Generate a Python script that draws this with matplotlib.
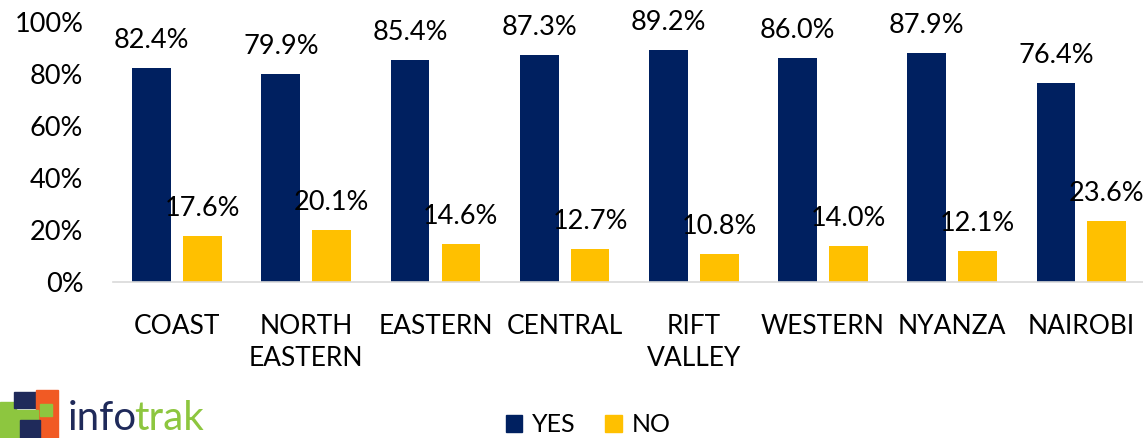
import matplotlib
matplotlib.use('Agg')
import matplotlib.pyplot as plt
from matplotlib.patches import Patch, Rectangle

plt.rcParams['font.family'] = ['Lato', 'DejaVu Sans']

regions = ['COAST', 'NORTH\nEASTERN', 'EASTERN', 'CENTRAL', 'RIFT\nVALLEY',
           'WESTERN', 'NYANZA', 'NAIROBI']
yes = [82.4, 79.9, 85.4, 87.3, 89.2, 86.0, 87.9, 76.4]
no = [17.6, 20.1, 14.6, 12.7, 10.8, 14.0, 12.1, 23.6]

NAVY = '#002060'
GOLD = '#FFC000'

W, H = 1143, 438
fig = plt.figure(figsize=(W / 100, H / 100), dpi=100)
ax = fig.add_axes([112.5 / W, 156 / H, (W - 112.5) / W, 260 / H])

x = list(range(len(regions)))
off, bw = 0.197, 0.30
b1 = ax.bar([i - off for i in x], yes, bw, color=NAVY)
b2 = ax.bar([i + off for i in x], no, bw, color=GOLD)
for bars, vals in ((b1, yes), (b2, no)):
    for b, v in zip(bars, vals):
        ax.annotate(f'{v:.1f}%', (b.get_x() + b.get_width() / 2, v),
                    xytext=(0, 14.4), textcoords='offset points',
                    ha='center', va='baseline', fontsize=19.5)

ax.set_xlim(-0.5, 7.5 - 3 / 129.3)
ax.set_ylim(0, 100)
ax.set_yticks([0, 20, 40, 60, 80, 100])
ax.set_yticklabels([f'{v}%' for v in range(0, 101, 20)], fontsize=19.5)
ax.set_xticks(x)
ax.set_xticklabels(regions, fontsize=19, linespacing=1.35, va='top')
ax.tick_params(length=0)
ax.tick_params(axis='x', pad=23)
ax.tick_params(axis='y', pad=21)
for s in ('top', 'right', 'left'):
    ax.spines[s].set_visible(False)
ax.spines['bottom'].set_color('#D9D9D9')
ax.spines['bottom'].set_linewidth(1.2)

fig.legend(handles=[Patch(color=NAVY, label='YES'), Patch(color=GOLD, label='NO')],
           loc='center', bbox_to_anchor=(588 / W, 1 - 425 / H), ncol=2,
           frameon=False, fontsize=18, handlelength=0.65, handleheight=0.65,
           handletextpad=0.4, columnspacing=1.2)

# logo (partial, at bottom-left corner)
def rect(x0, y0, w, h, c):
    fig.patches.append(Rectangle((x0 / W, 1 - (y0 + h) / H), w / W, h / H,
                                 color=c, transform=fig.transFigure))
rect(0, 402, 16, 36, '#8DC63F')
rect(14, 392, 22, 16, '#1F2A5A')
rect(36, 390, 22, 48, '#F15A24')
rect(16, 410, 22, 28, '#8DC63F')
rect(40, 404, 12, 12, '#8DC63F')
rect(20, 420, 20, 18, '#1F2A5A')
fig.text(68 / W, 0.003, 'info', color='#1F2A5A', fontsize=29, va='bottom')
fig.text(134 / W, 0.003, 'trak', color='#8DC63F', fontsize=29, va='bottom')

fig.savefig('out.png', dpi=100)
